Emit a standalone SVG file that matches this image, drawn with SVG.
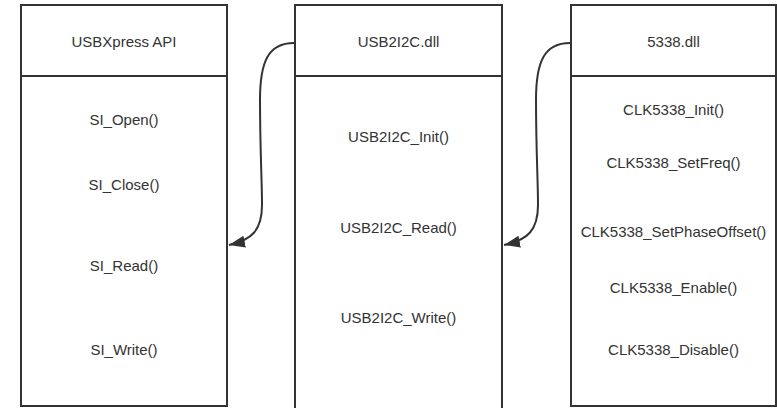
<svg xmlns="http://www.w3.org/2000/svg" width="777" height="408" viewBox="0 0 777 408">
<style>
.box{fill:#fff;stroke:#333;stroke-width:2}
.sep{stroke:#333;stroke-width:2}
.t{font-family:"Liberation Sans",Arial,sans-serif;font-size:15px;fill:#333;text-anchor:middle}
.conn{fill:none;stroke:#333;stroke-width:2}
</style>
<defs>
<marker id="arr" markerUnits="userSpaceOnUse" markerWidth="20" markerHeight="14" refX="16" refY="6" orient="auto">
<path d="M0,0 L16,6 L0,12 Z" fill="#333"/>
</marker>
</defs>
<rect width="777" height="408" fill="#fff"/>
<g id="usbxpress">
<rect class="box" x="21" y="5" width="206" height="401"/>
<line class="sep" x1="21" y1="76" x2="227" y2="76"/>
<text class="t" x="124" y="47">USBXpress API</text>
<text class="t" x="124" y="125">SI_Open()</text>
<text class="t" x="124" y="190">SI_Close()</text>
<text class="t" x="124" y="271">SI_Read()</text>
<text class="t" x="124" y="355">SI_Write()</text>
</g>
<g id="usb2i2c">
<rect class="box" x="295" y="5" width="207" height="412"/>
<line class="sep" x1="295" y1="76" x2="502" y2="76"/>
<text class="t" x="398.5" y="47">USB2I2C.dll</text>
<text class="t" x="398.5" y="142">USB2I2C_Init()</text>
<text class="t" x="398.5" y="233">USB2I2C_Read()</text>
<text class="t" x="398.5" y="323">USB2I2C_Write()</text>
</g>
<g id="dll5338">
<rect class="box" x="571" y="5" width="205" height="401"/>
<line class="sep" x1="571" y1="76" x2="776" y2="76"/>
<text class="t" x="673.5" y="47">5338.dll</text>
<text class="t" x="673.5" y="115">CLK5338_Init()</text>
<text class="t" x="673.5" y="168">CLK5338_SetFreq()</text>
<text class="t" x="673.5" y="237">CLK5338_SetPhaseOffset()</text>
<text class="t" x="673.5" y="293">CLK5338_Enable()</text>
<text class="t" x="673.5" y="355">CLK5338_Disable()</text>
</g>
<g id="connectors">
<path class="conn" marker-end="url(#arr)" d="M294,43 C268,43 260,62 260,100 C260,150 262,180 262,205 C262,230 252,240 229,245"/>
<path class="conn" marker-end="url(#arr)" d="M570,43 C544,43 536,62 536,100 C536,150 538,180 538,205 C538,230 528,240 504,245"/>
</g>
</svg>
